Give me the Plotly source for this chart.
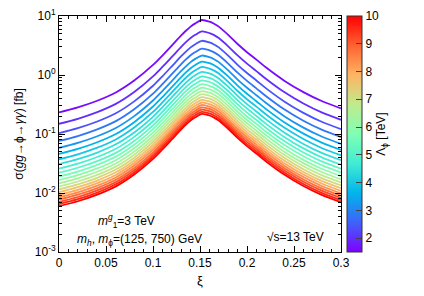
import plotly.graph_objects as go
import plotly.colors as pc

# data
xi = [0, 0.02, 0.04, 0.06, 0.08, 0.10, 0.11, 0.12, 0.13, 0.135, 0.14, 0.145, 0.152,
      0.16, 0.165, 0.17, 0.18, 0.19, 0.20, 0.21, 0.22, 0.24, 0.26, 0.28, 0.30]
# cross section of the top curve (Lambda_phi = 1.6 TeV), fb
sigma_top = [0.233, 0.283, 0.363, 0.501, 0.804, 1.48, 2.14, 3.16, 4.68, 5.62, 6.61, 7.50, 8.55,
             8.04, 7.41, 6.61, 4.79, 3.35, 2.43, 1.82, 1.35, 0.794, 0.513, 0.359, 0.272]
lambda_top = 1.6
lambdas = [1.6, 2.0, 2.4, 2.8, 3.2, 3.6, 4.0, 4.4, 4.8, 5.2, 5.6, 6.0, 6.4,
           6.8, 7.2, 7.6, 8.0, 8.4, 8.8, 9.2, 9.6, 10.0]
cmin, cmax = 1.5, 10.0
ytickvals = [1e-3, 1e-2, 1e-1, 1, 10]
yticktext = ["10<sup>-3</sup>", "10<sup>-2</sup>", "10<sup>-1</sup>",
             "10<sup>0</sup>", "10<sup>1</sup>"]
xtickvals = [0, 0.05, 0.1, 0.15, 0.2, 0.25, 0.3]
xticktext = ["0", "0.05", "0.1", "0.15", "0.2", "0.25", "0.3"]
cbar_ticks = [2, 3, 4, 5, 6, 7, 8, 9, 10]

rainbow = [
    [0.0, "#8000ff"], [0.125, "#4062fa"], [0.25, "#00b5eb"],
    [0.375, "#40ecd4"], [0.5, "#80ffb4"], [0.625, "#c0eb8d"],
    [0.75, "#ffb462"], [0.875, "#ff6232"], [1.0, "#ff0000"],
]


def color_for(v):
    t = (v - cmin) / (cmax - cmin)
    return pc.sample_colorscale(rainbow, [t])[0]


fig = go.Figure()
for lam in lambdas:
    ys = [s * (lambda_top / lam) ** 2 for s in sigma_top]
    fig.add_trace(go.Scatter(x=xi, y=ys, mode="lines",
                             line=dict(color=color_for(lam), width=1.8, shape="spline", smoothing=0.8),
                             showlegend=False, hoverinfo="skip"))

# colorbar carrier (invisible marker at the top curve's peak)
fig.add_trace(go.Scatter(
    x=[xi[12]], y=[sigma_top[12]], mode="markers", showlegend=False, hoverinfo="skip",
    opacity=0,
    marker=dict(color=[cmin], colorscale=rainbow, cmin=cmin, cmax=cmax, size=1,
                showscale=True,
                colorbar=dict(x=1.021, xanchor="left", y=0.5, yanchor="middle",
                              len=1.0, lenmode="fraction", thickness=15,
                              outlinewidth=1, outlinecolor="#333",
                              tickvals=cbar_ticks, ticks="inside", ticklen=6,
                              tickcolor="#444", ticklabelposition="outside",
                              ticklabeloverflow="allow",
                              tickfont=dict(size=12, color="black"),
                              title=dict(text="Λ<sub>ϕ</sub> [TeV]", side="right",
                                         font=dict(size=12, color="black")),
                              xpad=0, ypad=0))))

axis_common = dict(showline=True, linecolor="black", linewidth=1, mirror="ticks",
                   ticks="inside", tickcolor="black", showgrid=False, zeroline=False,
                   automargin=False, ticklabeloverflow="allow",
                   tickfont=dict(size=12, color="black"))

fig.update_xaxes(range=[0, 0.3], tickvals=xtickvals, ticktext=xticktext, ticklen=6,
                 minor=dict(ticks="inside", ticklen=3, dtick=0.01, tickcolor="black"),
                 title=dict(text="ξ", font=dict(size=13, color="black"), standoff=6),
                 **axis_common)
fig.update_yaxes(type="log", range=[-3, 1], tickvals=ytickvals, ticktext=yticktext, ticklen=6,
                 minor=dict(ticks="inside", ticklen=3, dtick="D1", tickcolor="black"),
                 title=dict(text="σ(<i>gg</i>→ϕ→<i>γγ</i>) [fb]", font=dict(size=12, color="black"),
                            standoff=8),
                 **axis_common)

fig.add_annotation(x=0.072, y=-2.475, xref="x", yref="y", showarrow=False,
                   text="<i>m</i><sup><i>g</i></sup><sub>1</sub>=3 TeV",
                   font=dict(size=12, color="black"))
fig.add_annotation(x=0.0856, y=-2.797, xref="x", yref="y", showarrow=False,
                   text="<i>m<sub>h</sub></i>, <i>m</i><sub>ϕ</sub>=(125, 750) GeV",
                   font=dict(size=12, color="black"))
fig.add_annotation(x=0.252, y=-2.746, xref="x", yref="y", showarrow=False,
                   text="√s=13 TeV", font=dict(size=12, color="black"))

fig.update_layout(width=416, height=288,
                  margin=dict(l=51, r=83, t=8, b=44, autoexpand=False),
                  paper_bgcolor="white", plot_bgcolor="white",
                  font=dict(family="Liberation Sans, Arial, sans-serif", color="black"))

fig.write_html("out.html")
